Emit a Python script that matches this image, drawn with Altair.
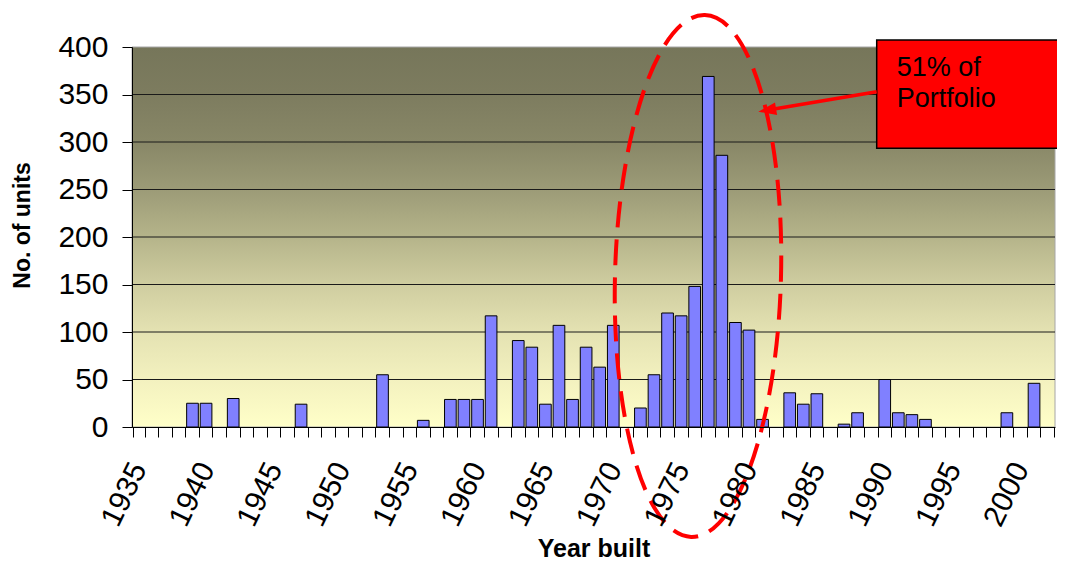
import altair as alt
import pandas as pd

# ---- data ----
years = [1935, 1936, 1937, 1938, 1939, 1940, 1941, 1942, 1943, 1944,
         1945, 1946, 1947, 1948, 1949, 1950, 1951, 1952, 1953, 1954,
         1955, 1956, 1957, 1958, 1959, 1960, 1961, 1962, 1963, 1964,
         1965, 1966, 1967, 1968, 1969, 1970, 1971, 1972, 1973, 1974,
         1975, 1976, 1977, 1978, 1979, 1980, 1981, 1982, 1983, 1984,
         1985, 1986, 1987, 1988, 1989, 1990, 1991, 1992, 1993, 1994,
         1995, 1996, 1997, 1998, 1999, 2000, 2001, 2002]
units = [0, 0, 0, 0, 25, 25, 0, 30, 0, 0,
         0, 0, 24, 0, 0, 0, 0, 0, 55, 0,
         0, 7, 0, 29, 29, 29, 117, 0, 91, 84,
         24, 107, 29, 84, 63, 107, 0, 20, 55, 120,
         117, 148, 369, 286, 110, 102, 8, 0, 36, 24,
         35, 0, 3, 15, 0, 50, 15, 13, 8, 0,
         0, 0, 0, 0, 15, 0, 46, 0]
y_ticks = [0, 50, 100, 150, 200, 250, 300, 350, 400]
grid_values = [50, 100, 150, 200, 250, 300, 350]
note_lines = ["51% of", "Portfolio"]

W, H = 923, 380
FONT = "Liberation Sans"

df = pd.DataFrame({"year": years, "units": units})
one = alt.Data(values=[{"a": 1}])

gradient = alt.LinearGradient(
    gradient="linear", x1=0, x2=0, y1=0, y2=1,
    stops=[
        alt.GradientStop(color="#76765A", offset=0),
        alt.GradientStop(color="#7D7C5F", offset=0.125),
        alt.GradientStop(color="#888767", offset=0.25),
        alt.GradientStop(color="#9C9B77", offset=0.375),
        alt.GradientStop(color="#B5B48A", offset=0.5),
        alt.GradientStop(color="#CFCDA0", offset=0.625),
        alt.GradientStop(color="#E4E2B2", offset=0.75),
        alt.GradientStop(color="#F3F1BF", offset=0.875),
        alt.GradientStop(color="#FFFFC8", offset=1),
    ],
)

y_scale = alt.Scale(domain=[0, 400])
y_axis = alt.Axis(
    values=y_ticks, grid=False, tickSize=10, tickColor="black", domainColor="black",
    labelFontSize=30, labelFont=FONT, labelColor="black", labelPadding=14,
    title="No. of units", titleFont=FONT, titleFontSize=23, titleFontWeight="bold",
    titleColor="black", titleX=-110, titleY=178, titleAngle=270,
    titleAlign="center", titleBaseline="middle", zindex=1)

bg = alt.Chart(one).mark_rect(color=gradient, stroke="#A6A6A6", strokeWidth=1).encode(
    x=alt.value(0), x2=alt.value(W), y=alt.value(0), y2=alt.value(H)
)

grid = alt.Chart(pd.DataFrame({"v": grid_values})).mark_rule(color="#1A1A1A", strokeWidth=1).encode(
    y=alt.Y("v:Q", scale=y_scale, axis=y_axis, title="No. of units"),
    x=alt.value(0), x2=alt.value(W),
)

bars = alt.Chart(df).transform_filter("datum.units > 0").mark_bar(
    color="#8080FF", stroke="#000000", strokeWidth=1, xOffset=-0.6
).encode(
    x=alt.X("year:O",
            scale=alt.Scale(domain=years, paddingInner=0.14, paddingOuter=0.07),
            axis=alt.Axis(
                tickBand="extent", tickSize=10, tickColor="black", domainColor="black",
                labelExpr="datum.value % 5 === 0 ? datum.label : ''",
                labelAngle=296, labelAlign="right", labelBaseline="middle",
                labelFontSize=30, labelFont=FONT, labelColor="black",
                labelPadding=27, labelOverlap=False,
                title="Year built", titleFont=FONT, titleFontSize=25, titleFontWeight="bold",
                titleColor="black", titleX=W / 2, titleY=129, titleBaseline="alphabetic",
                titleAlign="center", zindex=1)),
    y=alt.Y("units:Q", scale=y_scale, axis=y_axis, title="No. of units"),
)

ellipse = alt.Chart(one).mark_point(
    shape="M0,-1A0.318,1,0,1,1,0,1A0.318,1,0,1,1,0,-1Z",
    filled=False, size=272484, color="#FF0000", strokeWidth=4,
    strokeDash=[26, 12], angle=1.5, opacity=1,
).encode(x=alt.value(566), y=alt.value(229))

box = alt.Chart(one).mark_rect(color="#FF0000", stroke="#000000", strokeWidth=1.5).encode(
    x=alt.value(744.7), x2=alt.value(935), y=alt.value(-7), y2=alt.value(101.3)
)

arrow_line = alt.Chart(one).mark_rule(color="#FF0000", strokeWidth=3.5).encode(
    x=alt.value(744.7), y=alt.value(44.7), x2=alt.value(636), y2=alt.value(63.1)
)

arrow_head = alt.Chart(one).mark_point(
    shape="M-1,0L1,-0.7L1,0.7Z", filled=True, size=324, color="#FF0000",
    angle=350.4, opacity=1,
).encode(x=alt.value(635.2), y=alt.value(63.2))

note = alt.Chart(one).mark_text(
    align="left", baseline="alphabetic", fontSize=27, lineHeight=31.6,
    font=FONT, color="black",
).encode(x=alt.value(764.7), y=alt.value(28.7), text=alt.value(note_lines))

chart = alt.layer(bg, grid, bars, ellipse, box, arrow_line, arrow_head, note).properties(
    width=W, height=H,
    autosize=alt.AutoSizeParams(type="none"),
    padding={"left": 124, "top": 39, "right": 2, "bottom": 137},
    background="white",
).configure_view(stroke=None)

chart.save("out.html", embed_options={"renderer": "svg", "actions": False})
